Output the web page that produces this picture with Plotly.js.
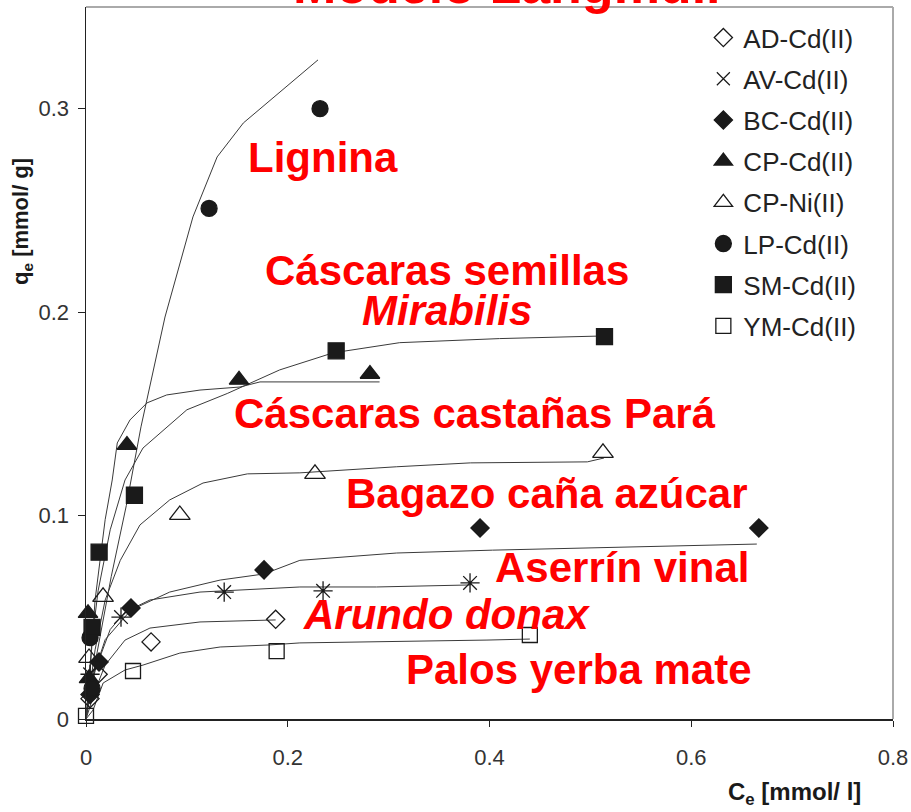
<!DOCTYPE html>
<html><head><meta charset="utf-8">
<script src="https://cdn.plot.ly/plotly-3.0.1.min.js"></script>
<style>html,body{margin:0;padding:0;background:#fff}#chart{width:911px;height:812px}</style>
</head><body><div id="chart"></div>
<script>
// ---- measured points ----
const seriesNames = ['AD-Cd(II)','AV-Cd(II)','BC-Cd(II)','CP-Cd(II)','CP-Ni(II)','LP-Cd(II)','SM-Cd(II)','YM-Cd(II)'];
const symbols = ['diamond-open','asterisk-open','diamond','triangle-up','triangle-up-open','circle','square','square-open'];
const legendSymbols = ['diamond-open','x-thin-open','diamond','triangle-up','triangle-up-open','circle','square','square-open'];

const adX = [0.004, 0.012, 0.0645, 0.188];
const adY = [0.010, 0.022, 0.0379, 0.049];
const avX = [0.004, 0.0347, 0.137, 0.235, 0.3807];
const avY = [0.022, 0.0501, 0.0624, 0.063, 0.0669];
const bcX = [0.004, 0.0129, 0.0446, 0.1765, 0.3906, 0.667];
const bcY = [0.012, 0.028, 0.0546, 0.0733, 0.0939, 0.0939];
const cpX = [0.003, 0.002, 0.0406, 0.1517, 0.2815];
const cpY = [0.020, 0.052, 0.1347, 0.1667, 0.1696];
const niX = [0.003, 0.0169, 0.093, 0.227, 0.5125];
const niY = [0.030, 0.060, 0.1003, 0.1205, 0.1308];
const lpX = [0.006, 0.004, 0.122, 0.232];
const lpY = [0.015, 0.040, 0.251, 0.300];
const smX = [0.006, 0.013, 0.048, 0.248, 0.514];
const smY = [0.045, 0.082, 0.110, 0.181, 0.188];
const ymX = [0.0, 0.0466, 0.189, 0.440];
const ymY = [0.0015, 0.0236, 0.0334, 0.0413];

// ---- fitted curves ----
const adFitX = [0, 0.002, 0.009, 0.019, 0.0387, 0.0634, 0.113, 0.188];
const adFitY = [0, 0.0034, 0.014, 0.0265, 0.0388, 0.0447, 0.0477, 0.0487];
const avFitX = [0, 0.002, 0.009, 0.024, 0.0387, 0.0634, 0.113, 0.212, 0.288, 0.381];
const avFitY = [0, 0.007, 0.024, 0.044, 0.0526, 0.0585, 0.0624, 0.0649, 0.0649, 0.0659];
const bcFitX = [0, 0.002, 0.009, 0.019, 0.0446, 0.083, 0.133, 0.1765, 0.212, 0.308, 0.403, 0.559, 0.665];
const bcFitY = [0, 0.007, 0.024, 0.039, 0.0536, 0.0624, 0.0683, 0.0713, 0.078, 0.0816, 0.083, 0.0846, 0.086];
const cpFitX = [0, 0.002, 0.009, 0.019, 0.026, 0.031, 0.0436, 0.0605, 0.080, 0.113, 0.1527, 0.1725, 0.291];
const cpFitY = [0, 0.009, 0.0585, 0.098, 0.1175, 0.1357, 0.147, 0.1554, 0.1593, 0.1617, 0.1632, 0.1657, 0.1657];
const niFitX = [0, 0.002, 0.009, 0.019, 0.034, 0.0535, 0.083, 0.116, 0.16, 0.212, 0.308, 0.381, 0.497, 0.5135];
const niFitY = [0, 0.009, 0.034, 0.0585, 0.078, 0.0954, 0.1077, 0.116, 0.1205, 0.121, 0.124, 0.1259, 0.1264, 0.1283];
const lpFitX = [0, 0.01, 0.025, 0.04, 0.0545, 0.0783, 0.106, 0.130, 0.156, 0.192, 0.230];
const lpFitY = [0, 0.03, 0.07, 0.105, 0.1436, 0.1976, 0.2468, 0.2763, 0.293, 0.308, 0.324];
const smFitX = [0, 0.002, 0.006, 0.012, 0.024, 0.0387, 0.0565, 0.100, 0.140, 0.192, 0.245, 0.311, 0.41, 0.5135];
const smFitY = [0, 0.014, 0.039, 0.063, 0.093, 0.1175, 0.1332, 0.152, 0.160, 0.1716, 0.180, 0.185, 0.187, 0.1883];
const ymFitX = [0, 0.007, 0.017, 0.0387, 0.0565, 0.093, 0.133, 0.182, 0.212, 0.291, 0.3975, 0.44];
const ymFitY = [0, 0.0044, 0.0177, 0.0241, 0.0265, 0.0324, 0.0354, 0.0364, 0.0374, 0.0379, 0.0388, 0.0393];

const xTicks = [0, 0.2, 0.4, 0.6, 0.8];
const xTickText = ['0', '0.2', '0.4', '0.6', '0.8'];
const yTicks = [0, 0.1, 0.2, 0.3];
const yTickText = ['0', '0.1', '0.2', '0.3'];

const labelTexts = ['Lignina', 'Cáscaras semillas', '<i>Mirabilis</i>', 'Cáscaras castañas Pará', 'Bagazo caña azúcar', 'Aserrín vinal', '<i>Arundo donax</i>', 'Palos yerba mate'];
const labelX = [0.235, 0.358, 0.358, 0.3856, 0.457, 0.531, 0.357, 0.489];
const labelY = [0.2758, 0.2203, 0.2006, 0.1504, 0.111, 0.0747, 0.0516, 0.0241];

const pts = [[adX,adY],[avX,avY],[bcX,bcY],[cpX,cpY],[niX,niY],[lpX,lpY],[smX,smY],[ymX,ymY]];
const fits = [[adFitX,adFitY],[avFitX,avFitY],[bcFitX,bcFitY],[cpFitX,cpFitY],[niFitX,niFitY],[lpFitX,lpFitY],[smFitX,smFitY],[ymFitX,ymFitY]];
const sizes = [14, 16, 14, 17, 18, 16, 16, 15];

const traces = [];
fits.forEach((f, i) => {
  traces.push({x: f[0], y: f[1], mode: 'lines', type: 'scatter', showlegend: false, hoverinfo: 'skip',
    line: {color: '#3a3a3a', width: 1}});
});
pts.forEach((p, i) => {
  traces.push({x: p[0], y: p[1], mode: 'markers', type: 'scatter', name: seriesNames[i],
    showlegend: i !== 1, legendgroup: 'g' + i, legendrank: i + 1, cliponaxis: false,
    marker: {symbol: symbols[i], size: sizes[i], color: '#1a1a1a', line: {color: '#1a1a1a', width: 1.3}}});
});
// legend entry for AV (drawn with a thin cross in the legend)
traces.push({x: [null], y: [null], mode: 'markers', type: 'scatter', name: seriesNames[1],
  legendgroup: 'g1', legendrank: 2,
  marker: {symbol: legendSymbols[1], size: 13, color: '#1a1a1a', line: {color: '#1a1a1a', width: 1.2}}});

const annotations = labelTexts.map((t, i) => ({
  text: '<b>' + t + '</b>', x: labelX[i], y: labelY[i], xref: 'x', yref: 'y',
  showarrow: false, xanchor: 'center', yanchor: 'middle',
  font: {family: 'Liberation Sans, Arial, sans-serif', size: 42, color: '#ff0000'}
}));
annotations.push({text: '<b>Modelo Langmuir</b>', x: 0.525, y: 0.987, xref: 'paper', yref: 'paper',
  showarrow: false, xanchor: 'center', yanchor: 'bottom',
  font: {family: 'Liberation Sans, Arial, sans-serif', size: 52, color: '#ff0000'}});
annotations.push({text: '<b>C<sub>e</sub> [mmol/ l]</b>', x: 794, y: 793, xref: 'paper', yref: 'paper',
  showarrow: false, xanchor: 'center', yanchor: 'middle',
  font: {family: 'Liberation Sans, Arial, sans-serif', size: 24, color: '#1a1a1a'}});
annotations.push({text: '<b>q<sub>e</sub> [mmol/ g]</b>', x: 22, y: 222, xref: 'paper', yref: 'paper',
  showarrow: false, textangle: -90, xanchor: 'center', yanchor: 'middle',
  font: {family: 'Liberation Sans, Arial, sans-serif', size: 22, color: '#1a1a1a'}});

// convert pixel-positioned paper annotations
const L = 86, R = 18, T = 7, B = 93, W = 911, H = 812;
annotations.forEach(a => {
  if (a.xref === 'paper' && a.x > 2) { a.x = (a.x - L) / (W - L - R); }
  if (a.yref === 'paper' && a.y > 2) { a.y = 1 - (a.y - T) / (H - T - B); }
});

const layout = {
  width: W, height: H,
  margin: {l: L, r: R, t: T, b: B},
  paper_bgcolor: '#fff', plot_bgcolor: '#fff',
  font: {family: 'Liberation Sans, Arial, sans-serif', color: '#333'},
  showlegend: true,
  legend: {x: 0.765, xanchor: 'left', y: 0.990, yanchor: 'top', bgcolor: 'rgba(0,0,0,0)',
    font: {size: 26, color: '#222'}, tracegroupgap: 4.4, itemsizing: 'trace'},
  xaxis: {range: [0, 0.8], tickvals: xTicks, ticktext: xTickText, ticks: 'outside', ticklen: 6,
    tickcolor: '#222', showline: true, linecolor: '#222', linewidth: 1.5, showgrid: false, zeroline: false,
    tickfont: {size: 22, color: '#333'}, ticklabelstandoff: 12, fixedrange: true},
  yaxis: {range: [0, 0.35], tickvals: yTicks, ticktext: yTickText, ticks: 'outside', ticklen: 7,
    tickcolor: '#222', showline: true, linecolor: '#222', linewidth: 1.5, showgrid: false, zeroline: false,
    tickfont: {size: 22, color: '#333'}, ticklabelstandoff: 4, fixedrange: true},
  shapes: [
    {type: 'line', xref: 'paper', yref: 'paper', x0: 0, x1: 1, y0: 1, y1: 1, line: {color: '#aaa', width: 2}},
    {type: 'line', xref: 'paper', yref: 'paper', x0: 1, x1: 1, y0: 0, y1: 1, line: {color: '#aaa', width: 2}}
  ],
  annotations: annotations
};

Plotly.newPlot('chart', traces, layout, {displayModeBar: false, staticPlot: true});
</script></body></html>
